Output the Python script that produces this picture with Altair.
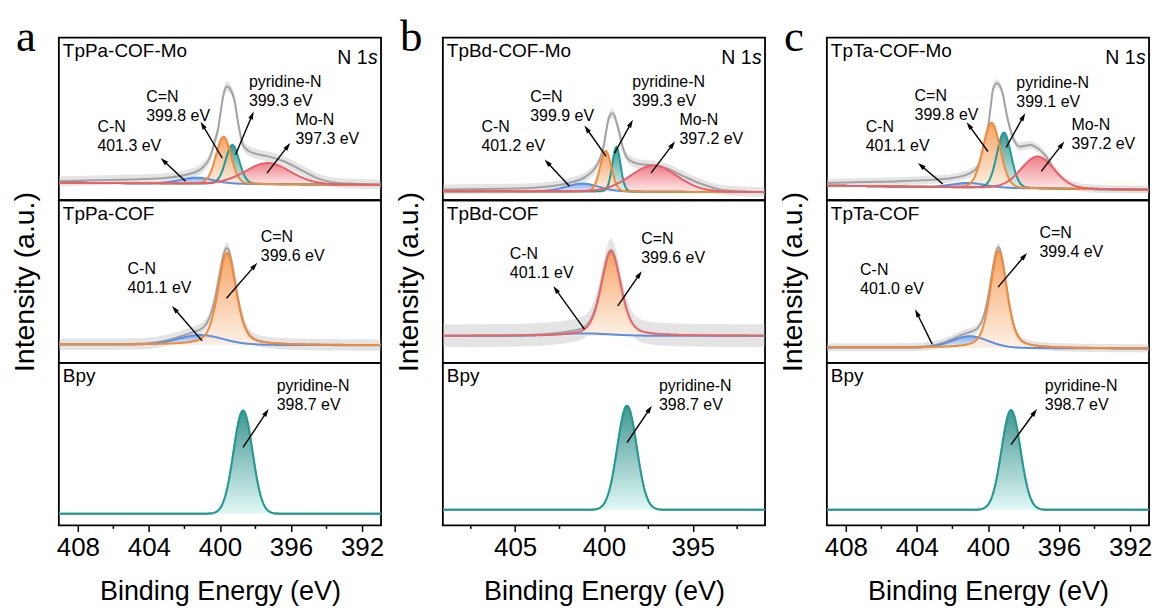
import math
import numpy as np
import pandas as pd
import altair as alt

# ---------------------------------------------------------------------------
# N 1s spectra: fitted components (centre / eV, height, FWHM / eV, Lorentzian
# fraction), linear background (value at 409 eV, value at 391 eV) and, for
# the Mo-loaded samples, the measured envelope. Intensities are a.u. on a
# 0-100 scale per panel.
# ---------------------------------------------------------------------------
COLUMN_LETTERS = ["a", "b", "c"]
SAMPLES = [["TpPa-COF-Mo", "TpPa-COF", "Bpy"],
           ["TpBd-COF-Mo", "TpBd-COF", "Bpy"],
           ["TpTa-COF-Mo", "TpTa-COF", "Bpy"]]

MO_NAMES = ["C-N", "C=N", "pyridine-N", "Mo-N"]
COF_NAMES = ["C-N", "C=N"]
BPY_NAMES = ["pyridine-N"]

# TpPa-COF-Mo
A1_CENTERS = [401.3, 399.8, 399.3, 397.3]
A1_HEIGHTS = [3.7, 29.0, 24.0, 13.0]
A1_FWHM = [2.2, 1.0, 0.9, 3.0]
A1_LMIX = [0.1, 0.1, 0.1, 0.1]
A1_BG = [10.8, 9.4]
A1_SPEC_E = [409.05, 407, 405, 403.3, 401.8, 401.1, 400.5, 400.3, 400.1, 399.95, 399.8,
             399.6, 399.4, 399.2, 398.96, 398.7, 398.4, 398.1, 397.3, 396.4, 395.5,
             394.5, 393.6, 392.5, 390.95]
A1_SPEC_I = [11.7, 12.3, 12.8, 13.5, 16, 19, 28, 36, 44, 55, 65, 70, 68, 62.5, 46.6, 34,
             30.5, 29, 27, 24, 19, 13.5, 11, 10.2, 9.8]
A1_NOISE = 3.0
# TpPa-COF
A2_CENTERS = [401.1, 399.6]
A2_HEIGHTS = [6.0, 56.6]
A2_FWHM = [3.0, 1.2]
A2_LMIX = [0.1, 0.4]
A2_BG = [11.3, 10.8]
A2_NOISE = 3.5
# Bpy
A3_CENTERS = [398.7]
A3_HEIGHTS = [63.4]
A3_FWHM = [1.25]
A3_LMIX = [0.0]
A3_BG = [7.2, 7.2]
A3_NOISE = 0.8

# TpBd-COF-Mo
B1_CENTERS = [401.2, 399.9, 399.3, 397.2]
B1_HEIGHTS = [4.9, 25.0, 27.6, 16.2]
B1_FWHM = [2.2, 0.75, 0.55, 3.1]
B1_LMIX = [0.1, 0.1, 0.1, 0.1]
B1_BG = [5.6, 5.0]
B1_SPEC_E = [409.05, 407, 405, 403, 402, 401, 400.5, 400.2, 400, 399.85, 399.7, 399.5,
             399.2, 398.9, 398.6, 398, 397.2, 396.5, 395.5, 394.5, 393.5, 392.5, 390.95]
B1_SPEC_I = [6.7, 7.0, 7.2, 8.6, 10.6, 14.7, 19.8, 26, 34, 44, 51.5, 53.6, 44.4, 31, 25,
             22.3, 21.5, 19.8, 14.7, 10, 6.7, 5.6, 5.1]
B1_NOISE = 3.0
# TpBd-COF
B2_CENTERS = [401.1, 399.6]
B2_HEIGHTS = [1.5, 52.0]
B2_FWHM = [3.5, 1.3]
B2_LMIX = [0.1, 0.4]
B2_BG = [16.6, 16.6]
B2_NOISE = 7.0
# Bpy
B3_CENTERS = [398.7]
B3_HEIGHTS = [64.0]
B3_FWHM = [1.28]
B3_LMIX = [0.0]
B3_BG = [9.6, 9.6]
B3_NOISE = 0.8

# TpTa-COF-Mo
C1_CENTERS = [401.1, 399.8, 399.1, 397.2]
C1_HEIGHTS = [2.8, 40.0, 34.0, 19.6]
C1_FWHM = [2.2, 1.15, 0.95, 2.2]
C1_LMIX = [0.1, 0.1, 0.1, 0.1]
C1_BG = [9.0, 6.4]
C1_SPEC_E = [409.05, 407, 405, 403, 402, 401, 400.5, 400.25, 400, 399.85, 399.7, 399.5,
             399.2, 398.9, 398.5, 398.2, 397.6, 397.2, 396.8, 396.2, 395.5, 394.5, 393,
             390.95]
C1_SPEC_I = [10.6, 11.2, 11.7, 12.7, 13.7, 16.7, 21.9, 31, 44.4, 57, 68.9, 72, 66.9,
             50.5, 36.2, 33, 34, 32, 28, 17.8, 10.6, 7.5, 6.8, 6.6]
C1_NOISE = 2.5
# TpTa-COF
C2_CENTERS = [401.0, 399.4]
C2_HEIGHTS = [7.2, 59.7]
C2_FWHM = [2.4, 1.1]
C2_LMIX = [0.1, 0.4]
C2_BG = [9.5, 8.8]
C2_NOISE = 2.5
# Bpy
C3_CENTERS = [398.7]
C3_HEIGHTS = [61.3]
C3_FWHM = [1.25]
C3_LMIX = [0.0]
C3_BG = [9.6, 9.6]
C3_NOISE = 0.8

MAJOR_TICKS = [[408, 404, 400, 396, 392], [405, 400, 395], [408, 404, 400, 396, 392]]
MINOR_TICKS = [[406, 402, 398, 394], [407.5, 402.5, 397.5, 392.5], [406, 402, 398, 394]]

# ---------------------------------------------------------------------------
# Layout: label anchors (eV, a.u.) and arrows (tail eV, tail a.u., tip eV, tip a.u.)
# ---------------------------------------------------------------------------
LABEL_AT = {
    "A1": [(406.9, 41.9), (404.15, 60.7), (398.37, 69.9), (395.75, 46.4)],
    "A2": [(405.2, 54.4), (397.7, 74.4)],
    "A3": [(396.8, 82.8)],
    "B1": [(406.9, 41.9), (404.15, 60.7), (398.4, 69.9), (395.75, 46.4)],
    "B2": [(405.3, 63.6), (397.9, 72.8)],
    "B3": [(396.9, 82.8)],
    "C1": [(406.88, 41.9), (404.13, 61.3), (398.4, 69.3), (395.3, 43.4)],
    "C2": [(407.2, 54.0), (397.1, 76.5)],
    "C3": [(396.8, 82.8)],
}
ARROW_AT = {
    "A1": [(401.94, 11.7, 403.34, 26), (399.87, 26, 401.09, 48.3),
           (399.12, 28, 398.1, 54.6), (397.35, 16.7, 396.04, 35.2)],
    "A2": [(401.0, 13.5, 402.7, 35), (399.63, 39.7, 397.9, 61.5)],
    "A3": [(398.7, 48, 397.26, 71.6)],
    "B1": [(401.94, 8.6, 403.34, 25), (399.88, 27, 401.1, 46),
           (399.4, 29, 398.37, 49.5), (397.35, 16.7, 396.0, 36.2)],
    "B2": [(401.1, 20.7, 402.85, 47.2), (399.22, 35, 397.87, 56.4)],
    "B3": [(398.7, 51, 397.3, 73.6)],
    "C1": [(402.54, 10, 403.94, 22.9), (400.0, 30, 401.2, 48),
           (398.97, 32.5, 397.9, 53.6), (397.0, 17.8, 395.7, 36.2)],
    "C2": [(403.14, 11.5, 404.1, 32.9), (399.43, 46.6, 397.8, 67.6)],
    "C3": [(398.7, 49.7, 397.24, 71.6)],
}

# stroke, gradient top, gradient bottom
COMP_STYLE = {
    "C-N": ("#5b8fe0", "#79a5ec", "#e6effd"),
    "C=N": ("#f28a38", "#f59a55", "#fdf0e4"),
    "pyridine-N": ("#1f9b94", "#2d8b86", "#ddf7f4"),
    "Mo-N": ("#e8606a", "#ed737c", "#fde6e7"),
}
STROKE_OVERRIDE = {("B2", "C=N"): "#e9676a"}
FILL_ORDER = ["C-N", "Mo-N", "pyridine-N", "C=N"]
LINE_ORDER = ["C-N", "pyridine-N", "C=N", "Mo-N"]

FONT = "Liberation Sans"
SERIF = "Liberation Serif"
E_HI, E_LO = 409.07, 390.93
PANEL_W, PANEL_H = 323, 163
Y_TOP = 100.0
PX_PER_EV = PANEL_W / (E_HI - E_LO)
PX_PER_U = PANEL_H / Y_TOP
GRID = np.round(np.arange(390.95, 409.05 + 1e-9, 0.05), 3)
HEAD = "M0,-1L0.6,1L-0.6,1Z"

g = globals()
PANELS = []
for ri in range(3):
    for ci, col in enumerate("ABC"):
        key = f"{col}{ri + 1}"
        names = [MO_NAMES, COF_NAMES, BPY_NAMES][ri]
        PANELS.append(dict(
            key=key, col=ci, row=ri, sample=SAMPLES[ci][ri], names=names,
            centers=g[key + "_CENTERS"], heights=g[key + "_HEIGHTS"],
            fwhm=g[key + "_FWHM"], lmix=g[key + "_LMIX"], bg=g[key + "_BG"],
            noise=g[key + "_NOISE"],
            spec_e=g.get(key + "_SPEC_E"), spec_i=g.get(key + "_SPEC_I"),
        ))


def pseudo_voigt(e, c, h, w, m):
    d = (e - c) / w
    return h * ((1 - m) * np.exp(-4 * np.log(2) * d * d) + m / (1 + 4 * d * d))


def background(bg):
    hi_side, lo_side = bg
    return lo_side + (hi_side - lo_side) * (GRID - GRID.min()) / (GRID.max() - GRID.min())


x_scale = alt.Scale(domain=[E_HI, E_LO], nice=False, zero=False)
y_scale = alt.Scale(domain=[0, Y_TOP], nice=False, zero=False)


def build_panel(p):
    col, row, key = p["col"], p["row"], p["key"]
    if row == 2:
        x_axis = alt.Axis(values=MAJOR_TICKS[col], format="d", title="Binding Energy (eV)",
                          labelFont=FONT, labelFontSize=26, labelColor="black",
                          labelPadding=3, labelFlush=False, labelOverlap=False,
                          tickSize=6, tickWidth=1.5, tickColor="black",
                          domain=False, grid=False,
                          titleFont=FONT, titleFontSize=27, titleFontWeight="normal",
                          titleColor="black", titlePadding=18)
    else:
        x_axis = None
    if row == 1:
        y_axis = alt.Axis(title="Intensity (a.u.)", labels=False, ticks=False, domain=False,
                          grid=False, titleFont=FONT, titleFontSize=28.5,
                          titleFontWeight="normal", titleColor="black", titlePadding=19)
    else:
        y_axis = None

    def X(f):
        return alt.X(f"{f}:Q", scale=x_scale, axis=x_axis)

    def Y(f):
        return alt.Y(f"{f}:Q", scale=y_scale, axis=y_axis)

    bg = background(p["bg"])
    comps = {}
    for n, c, h, w, m in zip(p["names"], p["centers"], p["heights"], p["fwhm"], p["lmix"]):
        comps[n] = pseudo_voigt(GRID, c, h, w, m)

    layers = []
    # measured envelope with its scatter band
    if p["spec_e"] is not None:
        se = np.array(p["spec_e"], dtype=float)
        si = np.array(p["spec_i"], dtype=float)
        interp = "monotone"
    else:
        se = GRID
        si = bg + sum(comps.values())
        interp = "linear"
    env = pd.DataFrame({"E": se, "I": np.round(si, 3),
                        "lo": np.round(si - p["noise"], 3), "hi": np.round(si + p["noise"], 3)})
    layers.append(alt.Chart(env).mark_area(color="#c4c4c4", opacity=0.45, interpolate=interp)
                  .encode(x=X("E"), y=Y("hi"), y2=alt.Y2("lo:Q")))
    layers.append(alt.Chart(env).mark_line(color="#a2a2a2", strokeWidth=2, interpolate=interp)
                  .encode(x=X("E"), y=Y("I")))

    # fitted components: gradient fills, then outlines
    frames = {n: pd.DataFrame({"E": GRID, "lo": np.round(bg, 3),
                               "hi": np.round(bg + comps[n], 3)}) for n in comps}
    for n in FILL_ORDER:
        if n not in comps:
            continue
        _, top, bot = COMP_STYLE[n]
        grad = alt.Gradient(gradient="linear", x1=0, x2=0, y1=0, y2=1,
                            stops=[alt.GradientStop(color=top, offset=0),
                                   alt.GradientStop(color=bot, offset=1)])
        layers.append(alt.Chart(frames[n]).mark_area(color=grad, opacity=0.9)
                      .encode(x=X("E"), y=Y("hi"), y2=alt.Y2("lo:Q")))
    for n in LINE_ORDER:
        if n not in comps:
            continue
        stroke = STROKE_OVERRIDE.get((key, n), COMP_STYLE[n][0])
        layers.append(alt.Chart(frames[n]).mark_line(color=stroke, strokeWidth=2)
                      .encode(x=X("E"), y=Y("hi")))

    # arrows
    rows = []
    for (et, ut, eh, uh) in ARROW_AT[key]:
        dx = -(eh - et) * PX_PER_EV
        dy = -(uh - ut) * PX_PER_U
        L = math.hypot(dx, dy)
        back = 4.0
        ec = eh + back * dx / L / PX_PER_EV
        uc = uh + back * dy / L / PX_PER_U
        ang = math.degrees(math.atan2(dx, -dy)) % 360
        rows.append({"Et": et, "ut": ut, "Ec": ec, "uc": uc, "ang": ang})
    arr = pd.DataFrame(rows)
    layers.append(alt.Chart(arr).mark_rule(color="black", strokeWidth=1.4)
                  .encode(x=X("Et"), x2=alt.X2("Ec:Q"), y=Y("ut"), y2=alt.Y2("uc:Q")))
    layers.append(alt.Chart(arr).mark_point(shape=HEAD, filled=True, color="black",
                                            size=64, opacity=1)
                  .encode(x=X("Ec"), y=Y("uc"), angle=alt.Angle("ang:Q", scale=None)))

    # peak labels
    lab = pd.DataFrame([{"E": e, "u": u, "t": f"{n}\n{c:.1f} eV"}
                        for (e, u), n, c in zip(LABEL_AT[key], p["names"], p["centers"])])
    layers.append(alt.Chart(lab).mark_text(align="left", baseline="alphabetic", font=FONT,
                                           fontSize=16, lineBreak="\n", lineHeight=19,
                                           color="black")
                  .encode(x=X("E"), y=Y("u"), text="t:N"))

    # sample name
    layers.append(alt.Chart(pd.DataFrame({"t": [p["sample"]]}))
                  .mark_text(align="left", baseline="alphabetic", font=FONT, fontSize=19,
                             color="black")
                  .encode(x=alt.value(4), y=alt.value(19.5), text="t:N"))
    if row == 0:
        layers.append(alt.Chart(pd.DataFrame({"t": ["N 1"]}))
                      .mark_text(align="right", baseline="alphabetic", font=FONT,
                                 fontSize=19.5, color="black")
                      .encode(x=alt.value(PANEL_W - 13.5), y=alt.value(26.3), text="t:N"))
        layers.append(alt.Chart(pd.DataFrame({"t": ["s"]}))
                      .mark_text(align="left", baseline="alphabetic", font=FONT,
                                 fontSize=19.5, fontStyle="italic", color="black")
                      .encode(x=alt.value(PANEL_W - 13), y=alt.value(26.3), text="t:N"))
        layers.append(alt.Chart(pd.DataFrame({"t": [COLUMN_LETTERS[col]]}))
                      .mark_text(align="left", baseline="alphabetic", font=SERIF,
                                 fontSize=45, color="black")
                      .encode(x=alt.value(-43), y=alt.value(13.3), text="t:N"))
    if row == 2:
        layers.append(alt.Chart(pd.DataFrame({"E": MINOR_TICKS[col]}))
                      .mark_rule(color="black", strokeWidth=1.5)
                      .encode(x=X("E"), y=alt.value(PANEL_H), y2=alt.value(PANEL_H + 3.5)))

    return alt.layer(*layers).properties(width=PANEL_W, height=PANEL_H)


grid_cells = [build_panel(p) for p in PANELS]

chart = (
    alt.concat(*grid_cells, columns=3, spacing={"row": 0, "column": 62}, bounds="flush")
    .properties(padding={"left": 10, "top": 13, "right": 2, "bottom": 2},
                background="white")
    .configure(font=FONT, view=alt.ViewConfig(stroke="black", strokeWidth=1.8))
)

chart.save("out.html", embed_options={"renderer": "svg", "actions": False})
